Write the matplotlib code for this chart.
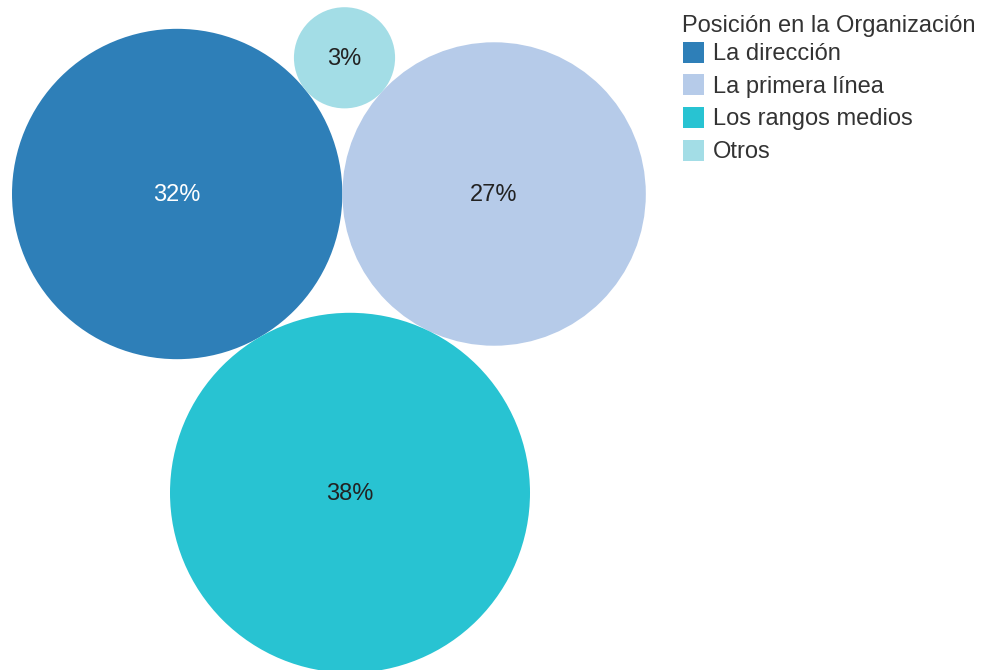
import matplotlib.pyplot as plt
import numpy as np
from matplotlib.patches import Circle, Rectangle

plt.rcParams["font.family"] = ["Liberation Sans", "DejaVu Sans"]

categories = ["La dirección", "La primera línea", "Los rangos medios", "Otros"]
shares = [32, 27, 38, 3]
colors = ["#2e7fb8", "#b6cbe9", "#28c3d2", "#a3dde6"]
label_colors = ["#ffffff", "#222222", "#222222", "#222222"]
legend_title = "Posición en la Organización"

# bubble area proportional to share (pixels per sqrt(percent))
scale = 29.2
radii = [scale * np.sqrt(v) for v in shares]


def tangent_point(c1, r1, c2, r2, r, side):
    # centre of a circle of radius r touching circles 1 and 2
    d1, d2 = r1 + r, r2 + r
    v = np.subtract(c2, c1)
    dist = np.hypot(*v)
    u = v / dist
    n = np.array([-u[1], u[0]]) * side
    a = (d1**2 - d2**2 + dist**2) / (2 * dist)
    h = np.sqrt(max(d1**2 - a**2, 0))
    return np.asarray(c1) + a * u + h * n


# pack: first two side by side, the big one underneath, the small one on top
centers = [None] * 4
centers[0] = np.array([12 + radii[0], 194.0])
centers[1] = centers[0] + np.array([radii[0] + radii[1], 0.0])
centers[2] = tangent_point(centers[0], radii[0], centers[1], radii[1], radii[2], 1)
centers[3] = tangent_point(centers[0], radii[0], centers[1], radii[1], radii[3], -1)

fig = plt.figure(figsize=(9.84, 6.70), dpi=100)
ax = fig.add_axes([0, 0, 1, 1])
ax.set_xlim(0, 984)
ax.set_ylim(670, 0)
ax.set_aspect("equal")
ax.axis("off")

fs = 17
for c, r, col, val, tc in zip(centers, radii, colors, shares, label_colors):
    ax.add_patch(Circle(c, r, facecolor=col, edgecolor="none"))
    ax.text(c[0], c[1] + 1, f"{val}%", ha="center", va="center",
            fontsize=fs, color=tc)

# legend
ax.text(682, 26, legend_title, ha="left", va="center", fontsize=fs,
        color="#333333")
for i, (name, col) in enumerate(zip(categories, colors)):
    y = 52 + i * 32.7
    ax.add_patch(Rectangle((683, y - 10.5), 21, 21, facecolor=col,
                           edgecolor="none"))
    ax.text(713, y + 2, name, ha="left", va="center", fontsize=fs,
            color="#333333")

fig.savefig("out.png", dpi=100)
